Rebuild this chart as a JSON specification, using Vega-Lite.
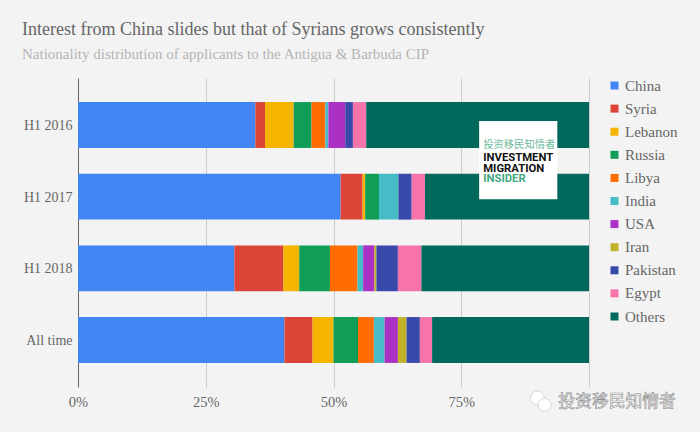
{
"$schema":"https://vega.github.io/schema/vega-lite/v6.json",
"width":511,"height":309,"autosize":{"type":"none"},
"padding":{"left":78,"top":78,"right":111,"bottom":45},
"background":"#f3f3f3",
"view":{"stroke":null},
"title":{"text":"Interest from China slides but that of Syrians grows consistently","subtitle":"Nationality distribution of applicants to the Antigua & Barbuda CIP","anchor":"start","frame":"group","dx":-56,"offset":16,"font":"Liberation Serif","fontSize":18,"fontWeight":"normal","color":"#666666","subtitleFont":"Liberation Serif","subtitleFontSize":15,"subtitleColor":"#b5b5b5","subtitlePadding":8},
"resolve":{"scale":{"y":"independent"}},
"layer":[
{"data":{"values":[
{"p":"H1 2016","n":"China","r":1,"v":34.7},{"p":"H1 2016","n":"Syria","r":2,"v":1.9},{"p":"H1 2016","n":"Lebanon","r":3,"v":5.6},{"p":"H1 2016","n":"Russia","r":4,"v":3.5},{"p":"H1 2016","n":"Libya","r":5,"v":2.7},{"p":"H1 2016","n":"India","r":6,"v":0.6},{"p":"H1 2016","n":"USA","r":7,"v":3.3},{"p":"H1 2016","n":"Pakistan","r":9,"v":1.5},{"p":"H1 2016","n":"Egypt","r":10,"v":2.6},{"p":"H1 2016","n":"Others","r":11,"v":43.6},
{"p":"H1 2017","n":"China","r":1,"v":51.4},{"p":"H1 2017","n":"Syria","r":2,"v":4.3},{"p":"H1 2017","n":"Lebanon","r":3,"v":0.5},{"p":"H1 2017","n":"Russia","r":4,"v":2.7},{"p":"H1 2017","n":"India","r":6,"v":3.8},{"p":"H1 2017","n":"Pakistan","r":9,"v":2.6},{"p":"H1 2017","n":"Egypt","r":10,"v":2.6},{"p":"H1 2017","n":"Others","r":11,"v":32.1},
{"p":"H1 2018","n":"China","r":1,"v":30.6},{"p":"H1 2018","n":"Syria","r":2,"v":9.6},{"p":"H1 2018","n":"Lebanon","r":3,"v":3.1},{"p":"H1 2018","n":"Russia","r":4,"v":6.0},{"p":"H1 2018","n":"Libya","r":5,"v":5.4},{"p":"H1 2018","n":"India","r":6,"v":1.1},{"p":"H1 2018","n":"USA","r":7,"v":2.2},{"p":"H1 2018","n":"Iran","r":8,"v":0.4},{"p":"H1 2018","n":"Pakistan","r":9,"v":4.2},{"p":"H1 2018","n":"Egypt","r":10,"v":4.6},{"p":"H1 2018","n":"Others","r":11,"v":32.8},
{"p":"All time","n":"China","r":1,"v":40.4},{"p":"All time","n":"Syria","r":2,"v":5.5},{"p":"All time","n":"Lebanon","r":3,"v":4.1},{"p":"All time","n":"Russia","r":4,"v":4.8},{"p":"All time","n":"Libya","r":5,"v":3.1},{"p":"All time","n":"India","r":6,"v":2.1},{"p":"All time","n":"USA","r":7,"v":2.6},{"p":"All time","n":"Iran","r":8,"v":1.7},{"p":"All time","n":"Pakistan","r":9,"v":2.6},{"p":"All time","n":"Egypt","r":10,"v":2.4},{"p":"All time","n":"Others","r":11,"v":30.7}
]},
"mark":{"type":"bar"},
"encoding":{
"y":{"field":"p","type":"nominal","sort":["H1 2016","H1 2017","H1 2018","All time"],"scale":{"paddingInner":0.36,"paddingOuter":0.336},"axis":{"title":null,"ticks":false,"grid":false,"domain":true,"domainColor":"#666666","domainWidth":1,"labelFont":"Liberation Serif","labelFontSize":14,"labelColor":"#666666","labelPadding":6,"labelOffset":1}},
"x":{"field":"v","type":"quantitative","stack":"zero","scale":{"domain":[0,100],"nice":false},"axis":{"title":null,"values":[0,25,50,75,100],"format":".0f","labelExpr":"datum.value == 100 ? '' : datum.label + '%'","labelFlush":false,"ticks":false,"domain":false,"grid":true,"gridColor":"#cccccc","gridWidth":1,"labelFont":"Liberation Serif","labelFontSize":14.5,"labelColor":"#666666","labelPadding":8}},
"color":{"field":"n","type":"nominal","scale":{"domain":["China","Syria","Lebanon","Russia","Libya","India","USA","Iran","Pakistan","Egypt","Others"],"range":["#4285f4","#db4437","#f4b400","#0f9d58","#ff6d00","#46bdc6","#ab30c4","#c2b22a","#3949ab","#f774aa","#00695c"]},
"legend":{"title":null,"orient":"none","legendX":529,"legendY":0,"symbolType":"square","symbolSize":64,"symbolStrokeWidth":0,"symbolOpacity":1,"labelFont":"Liberation Serif","labelFontSize":15,"labelColor":"#666666","labelOffset":3,"rowPadding":7.1,"padding":0}},
"order":{"field":"r"}
}},
{"data":{"values":[{"a":78.5,"b":93.8,"t":13.9,"u":39.2}]},"mark":{"type":"rect","color":"#ffffff"},"encoding":{"x":{"field":"a","type":"quantitative"},"x2":{"field":"b"},"y":{"field":"t","type":"quantitative","scale":{"domain":[0,100],"reverse":true},"axis":null},"y2":{"field":"u"}}},
{"data":{"values":[{"a":79.3,"t":21.7,"s":"投资移民知情者"}]},"mark":{"type":"text","font":"Noto Sans CJK SC","fontSize":10.3,"align":"left","baseline":"middle","color":"#6dbb9b"},"encoding":{"x":{"field":"a","type":"quantitative"},"y":{"field":"t","type":"quantitative","scale":{"domain":[0,100],"reverse":true},"axis":null},"text":{"field":"s"}}},
{"data":{"values":[{"a":79.3,"t":26,"s":"INVESTMENT"},{"a":79.3,"t":29.4,"s":"MIGRATION"}]},"mark":{"type":"text","font":"Roboto","fontWeight":"bold","fontSize":11.3,"align":"left","baseline":"middle","color":"#111111"},"encoding":{"x":{"field":"a","type":"quantitative"},"y":{"field":"t","type":"quantitative","scale":{"domain":[0,100],"reverse":true},"axis":null},"text":{"field":"s"}}},
{"data":{"values":[{"a":79.3,"t":32.6,"s":"INSIDER"}]},"mark":{"type":"text","font":"Roboto","fontWeight":"bold","fontSize":11.3,"align":"left","baseline":"middle","color":"#3fa97f"},"encoding":{"x":{"field":"a","type":"quantitative"},"y":{"field":"t","type":"quantitative","scale":{"domain":[0,100],"reverse":true},"axis":null},"text":{"field":"s"}}},
{"data":{"values":[{"a":94.0,"t":104.7,"s":"投资移民知情者"}]},"mark":{"type":"text","font":"Noto Sans CJK SC","fontSize":16.8,"align":"left","baseline":"middle","color":"#ffffff","stroke":"#8c8c8c","strokeWidth":0.6},"encoding":{"x":{"field":"a","type":"quantitative"},"y":{"field":"t","type":"quantitative","scale":{"domain":[0,100],"reverse":true},"axis":null},"text":{"field":"s"}}},
{"data":{"values":[{"a":89.9,"t":103.5,"k":190},{"a":91.3,"t":105.8,"k":170}]},"mark":{"type":"point","shape":"circle","filled":true,"color":"#ffffff","stroke":"#bdbdbd","strokeWidth":0.6,"opacity":1},"encoding":{"x":{"field":"a","type":"quantitative"},"y":{"field":"t","type":"quantitative","scale":{"domain":[0,100],"reverse":true},"axis":null},"size":{"field":"k","type":"quantitative","legend":null,"scale":{"domain":[0,200],"range":[0,200]}}}}
]
}
